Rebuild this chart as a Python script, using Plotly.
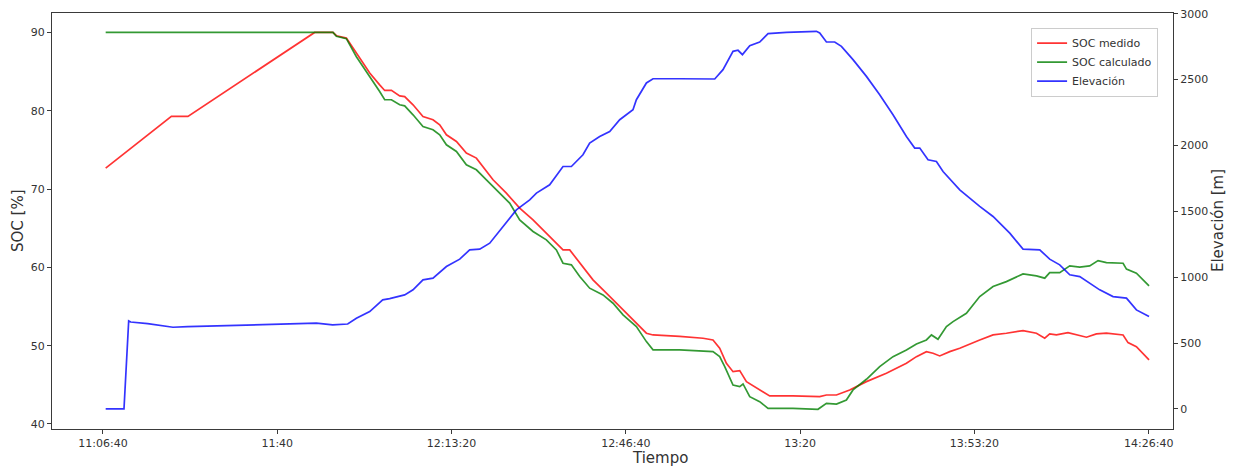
import pandas as pd
import plotly.graph_objects as go

DAY = "2019-06-15"

# Measured state of charge [%]
soc_medido_time = [
    "11:07:11", "11:19:45", "11:22:55", "11:47:09", "11:50:39", "11:51:19", "11:53:13",
    "11:55:08", "11:57:41", "11:59:35", "12:00:33", "12:01:50", "12:03:25", "12:04:22",
    "12:05:58", "12:07:52", "12:09:47", "12:11:04", "12:12:21", "12:14:16", "12:16:10",
    "12:18:05", "12:19:21", "12:21:16", "12:23:49", "12:26:22", "12:28:55", "12:31:28",
    "12:33:23", "12:34:39", "12:35:56", "12:37:51", "12:40:23", "12:42:57", "12:45:30",
    "12:48:02", "12:50:36", "12:51:52", "12:56:58", "13:01:26", "13:03:20", "13:04:37",
    "13:05:54", "13:07:10", "13:08:27", "13:09:44", "13:12:16", "13:14:11", "13:18:38",
    "13:23:45", "13:25:02", "13:26:57", "13:29:29", "13:32:41", "13:36:30", "13:40:20",
    "13:42:15", "13:44:09", "13:45:25", "13:46:42", "13:48:37", "13:50:32", "13:54:21",
    "13:56:54", "13:59:27", "14:02:38", "14:05:12", "14:06:47", "14:07:44", "14:09:01",
    "14:11:14", "14:12:51", "14:14:46", "14:16:40", "14:18:35", "14:21:46", "14:22:43",
    "14:24:19", "14:26:44",
]
soc_medido = [
    72.67, 79.27, 79.27, 90.0, 90.0, 89.58, 89.28,
    87.37, 84.81, 83.3, 82.59, 82.6, 81.9, 81.8,
    80.76, 79.27, 78.85, 78.2, 76.93, 76.07, 74.59,
    73.95, 72.88, 71.18, 69.48, 67.56, 66.07, 64.37,
    63.09, 62.23, 62.23, 60.53, 58.4, 56.7, 54.99,
    53.29, 51.59, 51.37, 51.2, 50.95, 50.73, 49.67,
    47.75, 46.68, 46.81, 45.41, 44.35, 43.58, 43.58,
    43.49, 43.7, 43.7, 44.35, 45.41, 46.48, 47.75,
    48.6, 49.24, 49.03, 48.69, 49.24, 49.67, 50.73,
    51.37, 51.59, 51.92, 51.59, 50.95, 51.5, 51.37,
    51.67, 51.37, 51.08, 51.5, 51.59, 51.37, 50.39,
    49.88, 48.18,
]

# Calculated state of charge [%]
soc_calc_time = [
    "11:07:11", "11:50:39", "11:51:19", "11:53:13", "11:55:08", "11:57:41", "11:59:35",
    "12:00:33", "12:01:50", "12:03:25", "12:04:22", "12:05:58", "12:07:52", "12:09:47",
    "12:11:04", "12:12:21", "12:14:16", "12:16:10", "12:18:05", "12:20:00", "12:21:55",
    "12:24:27", "12:26:22", "12:28:55", "12:31:28", "12:33:23", "12:34:39", "12:36:15",
    "12:37:51", "12:39:45", "12:42:18", "12:44:13", "12:46:08", "12:48:41", "12:50:36",
    "12:51:52", "12:56:58", "13:03:20", "13:04:37", "13:05:35", "13:07:10", "13:08:27",
    "13:09:05", "13:10:22", "13:12:16", "13:13:52", "13:18:38", "13:23:25", "13:25:02",
    "13:26:57", "13:28:51", "13:30:07", "13:32:41", "13:35:13", "13:37:46", "13:40:20",
    "13:42:15", "13:44:09", "13:45:07", "13:46:22", "13:47:59", "13:49:15", "13:51:48",
    "13:54:21", "13:56:54", "13:59:27", "14:02:38", "14:05:12", "14:06:47", "14:07:44",
    "14:09:39", "14:11:34", "14:13:29", "14:15:23", "14:16:59", "14:18:35", "14:21:46",
    "14:22:25", "14:24:19", "14:26:44",
]
soc_calculado = [
    90.0, 90.0, 89.5, 89.2, 86.9, 84.4, 82.46,
    81.4, 81.4, 80.76, 80.63, 79.48, 77.99, 77.57,
    76.93, 75.65, 74.8, 73.1, 72.46, 71.18, 69.9,
    68.2, 66.07, 64.58, 63.51, 62.23, 60.53, 60.32,
    58.82, 57.34, 56.48, 55.42, 53.93, 52.43, 50.52,
    49.46, 49.46, 49.24, 48.6, 47.32, 44.98, 44.77,
    45.11, 43.49, 42.85, 42.0, 42.0, 41.88, 42.64,
    42.55, 43.07, 44.35, 45.71, 47.32, 48.6, 49.46,
    50.22, 50.73, 51.37, 50.82, 52.43, 53.07, 54.14,
    56.27, 57.55, 58.18, 59.17, 58.91, 58.62, 59.33,
    59.33, 60.19, 60.02, 60.19, 60.87, 60.61, 60.53,
    59.77, 59.25, 57.63,
]

# Elevation [m]
elev_time = [
    "11:07:11", "11:10:41", "11:11:35", "11:11:58", "11:15:13", "11:20:03", "11:22:52",
    "11:47:29", "11:50:36", "11:53:28", "11:55:08", "11:57:41", "12:00:10", "12:01:30",
    "12:04:22", "12:05:58", "12:07:52", "12:09:47", "12:12:21", "12:14:54", "12:16:48",
    "12:18:43", "12:20:38", "12:23:10", "12:25:44", "12:28:17", "12:29:34", "12:32:06",
    "12:34:39", "12:36:15", "12:38:28", "12:39:45", "12:41:40", "12:43:35", "12:45:30",
    "12:48:02", "12:48:41", "12:50:36", "12:51:52", "12:56:58", "13:03:40", "13:05:15",
    "13:07:10", "13:08:07", "13:08:58", "13:10:22", "13:12:16", "13:13:52", "13:17:23",
    "13:23:07", "13:23:45", "13:25:02", "13:26:37", "13:27:54", "13:30:07", "13:32:41",
    "13:35:13", "13:37:46", "13:40:20", "13:41:55", "13:42:53", "13:44:28", "13:46:04",
    "13:47:20", "13:49:15", "13:50:32", "13:54:21", "13:56:54", "14:00:06", "14:02:38",
    "14:05:50", "14:07:44", "14:09:39", "14:11:34", "14:13:29", "14:15:23", "14:17:18",
    "14:19:51", "14:22:25", "14:24:19", "14:26:44",
]
elevacion = [
    0, 0, 668, 660, 648, 620, 625,
    651, 638, 645, 689, 739, 828, 838,
    866, 904, 980, 993, 1081, 1137, 1208,
    1213, 1258, 1385, 1511, 1587, 1638, 1701,
    1840, 1840, 1929, 2018, 2068, 2106, 2195,
    2271, 2347, 2474, 2506, 2506, 2504, 2575,
    2714, 2722, 2689, 2757, 2785, 2848, 2858,
    2866, 2853, 2785, 2785, 2752, 2651, 2524,
    2385, 2233, 2068, 1980, 1980, 1891, 1878,
    1802, 1714, 1663, 1537, 1461, 1334, 1213,
    1208, 1137, 1094, 1018, 1005, 955, 904,
    853, 841, 752, 701,
]

tick_times = ["11:06:40", "11:40:00", "12:13:20", "12:46:40", "13:20:00", "13:53:20", "14:26:40"]
tick_labels = ["11:06:40", "11:40", "12:13:20", "12:46:40", "13:20", "13:53:20", "14:26:40"]
x_limits = ["10:56:55", "14:31:19"]
soc_limits = [39.36, 92.48]
soc_ticks = [40, 50, 60, 70, 80, 90]
elev_limits = [-152, 3005]
elev_ticks = [0, 500, 1000, 1500, 2000, 2500, 3000]


def stamp(times):
    return [f"{DAY} {t}" for t in times]


FONT = "DejaVu Sans"
AXIS_COLOR = "#3a3a3a"
TEXT_COLOR = "#333333"

fig = go.Figure()
fig.add_trace(go.Scatter(
    x=pd.to_datetime(stamp(soc_medido_time)), y=soc_medido, name="SOC medido",
    mode="lines", line=dict(color="rgba(255,0,0,0.8)", width=1.7),
))
fig.add_trace(go.Scatter(
    x=pd.to_datetime(stamp(soc_calc_time)), y=soc_calculado, name="SOC calculado",
    mode="lines", line=dict(color="rgba(0,128,0,0.8)", width=1.7),
))
fig.add_trace(go.Scatter(
    x=pd.to_datetime(stamp(elev_time)), y=elevacion, name="Elevación",
    mode="lines", line=dict(color="rgba(0,0,255,0.8)", width=1.7), yaxis="y2",
))

axis_common = dict(
    showline=True, linecolor=AXIS_COLOR, linewidth=1,
    ticks="outside", ticklen=4, tickwidth=1, tickcolor=AXIS_COLOR,
    showgrid=False, zeroline=False, automargin=False,
    tickfont=dict(family=FONT, size=11, color=TEXT_COLOR),
)

fig.update_layout(
    width=1233, height=468,
    margin=dict(l=52, r=60, t=13, b=39),
    paper_bgcolor="white", plot_bgcolor="white",
    font=dict(family=FONT, color=TEXT_COLOR),
    xaxis=dict(
        **axis_common, mirror=True,
        range=stamp(x_limits),
        tickmode="array", tickvals=stamp(tick_times), ticktext=tick_labels,
    ),
    yaxis=dict(
        **axis_common, range=soc_limits,
        tickmode="array", tickvals=soc_ticks,
    ),
    yaxis2=dict(
        **axis_common, overlaying="y", side="right", range=elev_limits,
        tickmode="array", tickvals=elev_ticks,
    ),
    legend=dict(
        x=0.8734, y=0.965, xanchor="left", yanchor="top",
        bgcolor="white", bordercolor="#cccccc", borderwidth=1,
        font=dict(family=FONT, size=11, color=TEXT_COLOR),
        itemwidth=30, tracegroupgap=0,
    ),
    showlegend=True,
    annotations=[
        dict(text="SOC [%]", xref="paper", yref="paper", x=-0.0303, y=0.5,
             textangle=-90, showarrow=False, xanchor="center", yanchor="middle",
             font=dict(family=FONT, size=15, color=TEXT_COLOR)),
        dict(text="Elevación [m]", xref="paper", yref="paper", x=1.0402, y=0.5,
             textangle=-90, showarrow=False, xanchor="center", yanchor="middle",
             font=dict(family=FONT, size=15, color=TEXT_COLOR)),
        dict(text="Tiempo", xref="paper", yref="paper", x=0.542, y=-0.0705,
             showarrow=False, xanchor="center", yanchor="middle",
             font=dict(family=FONT, size=15, color=TEXT_COLOR)),
    ],
)

fig.write_html("out.html")
